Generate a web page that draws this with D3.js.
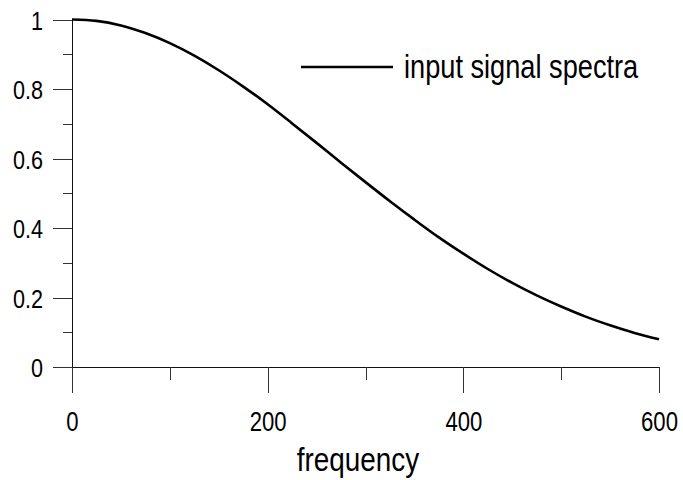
<!DOCTYPE html>
<html>
<head>
<meta charset="utf-8">
<script src="https://cdn.jsdelivr.net/npm/d3@7"></script>
<style>
  html, body { margin: 0; padding: 0; background: #fff; }
  svg { display: block; }
  text { font-family: "Liberation Sans", Arial, Helvetica, sans-serif; fill: #000; }
</style>
</head>
<body>
<script>
// Spectrum samples: frequency and normalized amplitude
const frequency = [0, 25, 50, 75, 100, 125, 150, 175, 200, 225, 250, 275, 300,
                   325, 350, 375, 400, 425, 450, 475, 500, 525, 550, 575, 600];
const amplitude = [1.000, 0.996, 0.983, 0.961, 0.932, 0.896, 0.854, 0.807, 0.756,
                   0.701, 0.645, 0.588, 0.532, 0.477, 0.424, 0.373, 0.326, 0.282,
                   0.242, 0.206, 0.174, 0.145, 0.120, 0.098, 0.080];

const xMajorTicks = [0, 200, 400, 600];
const xMinorTicks = [100, 300, 500];
const yMajorTicks = [0, 0.2, 0.4, 0.6, 0.8, 1];
const yMinorTicks = [0.1, 0.3, 0.5, 0.7, 0.9];
const xTitle = "frequency";
const seriesName = "input signal spectra";

const W = 683, H = 480;

const svg = d3.select("body").append("svg")
  .attr("width", W).attr("height", H);
svg.append("rect").attr("width", W).attr("height", H).attr("fill", "#fff");

const x = d3.scaleLinear().domain([0, 600]).range([72, 659]);
const y = d3.scaleLinear().domain([0, 1]).range([367, 19.5]);

// Axis lines (y axis runs past the origin, x axis starts left of it)
svg.append("line")
  .attr("x1", x(0)).attr("x2", x(0))
  .attr("y1", y(1)).attr("y2", y(0) + 26)
  .attr("stroke", "#111").attr("stroke-width", 1).attr("shape-rendering", "crispEdges");
svg.append("line")
  .attr("x1", x(0) - 19).attr("x2", x(600))
  .attr("y1", y(0)).attr("y2", y(0))
  .attr("stroke", "#111").attr("stroke-width", 1).attr("shape-rendering", "crispEdges");

function styleTicks(g) {
  g.select(".domain").remove();
  g.selectAll(".tick line")
    .attr("stroke", "#333").attr("shape-rendering", "crispEdges");
}

// Y axis ticks
const yMajor = svg.append("g")
  .attr("transform", `translate(${x(0)},0)`)
  .call(d3.axisLeft(y).tickValues(yMajorTicks).tickSize(19).tickFormat(d => String(d)));
styleTicks(yMajor);
yMajor.selectAll(".tick text")
  .attr("x", null).attr("dy", null)
  .attr("text-anchor", "end")
  .attr("font-size", 26)
  .attr("transform", "translate(-29,9.5) scale(0.83,1)");

const yMinor = svg.append("g")
  .attr("transform", `translate(${x(0)},0)`)
  .call(d3.axisLeft(y).tickValues(yMinorTicks).tickSize(9.5).tickFormat(""));
styleTicks(yMinor);

// X axis ticks
const xMajor = svg.append("g")
  .attr("transform", `translate(0,${y(0)})`)
  .call(d3.axisBottom(x).tickValues(xMajorTicks).tickSize(26).tickFormat(d => String(d)));
styleTicks(xMajor);
xMajor.selectAll(".tick text")
  .attr("y", null).attr("dy", null)
  .attr("text-anchor", "middle")
  .attr("font-size", 27)
  .attr("transform", "translate(0,64) scale(0.82,1)");

const xMinor = svg.append("g")
  .attr("transform", `translate(0,${y(0)})`)
  .call(d3.axisBottom(x).tickValues(xMinorTicks).tickSize(13).tickFormat(""));
styleTicks(xMinor);

// X axis title
svg.append("text")
  .attr("text-anchor", "middle")
  .attr("font-size", 34)
  .attr("transform", "translate(358,471) scale(0.82,1)")
  .text(xTitle);

// Spectrum curve
const line = d3.line()
  .x((d, i) => x(frequency[i]))
  .y(d => y(d))
  .curve(d3.curveMonotoneX);
svg.append("path")
  .datum(amplitude)
  .attr("d", line)
  .attr("fill", "none")
  .attr("stroke", "#000")
  .attr("stroke-width", 2.6)
  .attr("stroke-linejoin", "round");

// Legend
const legend = svg.append("g").attr("transform", "translate(301,67)");
legend.append("line")
  .attr("x1", 0).attr("x2", 92).attr("y1", 0).attr("y2", 0)
  .attr("stroke", "#000").attr("stroke-width", 2.6);
legend.append("text")
  .attr("font-size", 34)
  .attr("transform", "translate(103,11) scale(0.8,1)")
  .text(seriesName);
</script>
</body>
</html>
